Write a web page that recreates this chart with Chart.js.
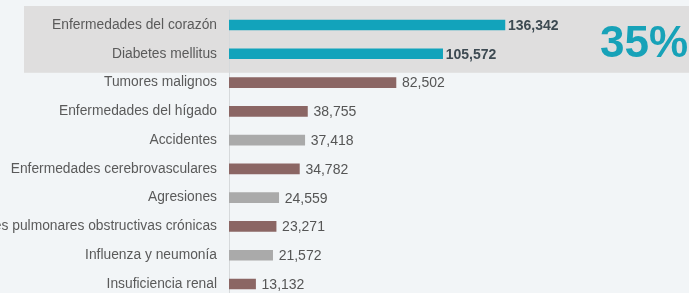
<!DOCTYPE html>
<html>
<head>
<meta charset="utf-8">
<script src="https://cdn.jsdelivr.net/npm/chart.js@4.4.1/dist/chart.umd.min.js"></script>
<style>
    html, body { margin: 0; padding: 0; background: #f2f5f7; overflow: hidden; }
    #wrap { position: relative; width: 689px; height: 299px; }
    #pct {
        position: absolute; left: 600px; top: 20px;
        font: bold 44px "Liberation Sans", Arial, sans-serif; line-height: 44px;
        color: #17a2b8; white-space: nowrap;
    }
</style>
</head>
<body>
<div id="wrap">
    <canvas id="causes-chart" width="689" height="299"></canvas>
    <div id="pct">35%</div>
</div>
<script>
const categories = [
    'Enfermedades del corazón', 'Diabetes mellitus', 'Tumores malignos', 'Enfermedades del hígado',
    'Accidentes', 'Enfermedades cerebrovasculares', 'Agresiones',
    'Enfermedades pulmonares obstructivas crónicas', 'Influenza y neumonía', 'Insuficiencia renal'
];
const deaths = [136342, 105572, 82502, 38755, 37418, 34782, 24559, 23271, 21572, 13132];
const barGroups = ['top', 'top', 'disease', 'disease', 'other', 'disease', 'other', 'disease', 'other', 'disease'];

const groupColors = { top: '#12a3bb', disease: '#8b6664', other: '#aaaaaa' };
const highlightRows = 2;

// grey band behind the two leading causes
const bandPlugin = {
    id: 'band',
    beforeDraw: (chart) => {
        const { ctx, scales: { y } } = chart;
        const top = y.getPixelForValue(0) - 19;
        const bottom = y.getPixelForValue(highlightRows - 1) + 19;
        ctx.save();
        ctx.fillStyle = '#dfdede';
        ctx.fillRect(24, top, chart.width - 24, bottom - top);
        ctx.restore();
    }
};

// value labels at the end of each bar
const valueLabels = {
    id: 'valueLabels',
    afterDatasetsDraw: (chart) => {
        const { ctx } = chart;
        const meta = chart.getDatasetMeta(0);
        ctx.save();
        ctx.textBaseline = 'middle';
        ctx.textAlign = 'left';
        meta.data.forEach((bar, i) => {
            const bold = i < highlightRows;
            ctx.font = (bold ? 'bold ' : '') + '14px "Liberation Sans", Arial, sans-serif';
            ctx.fillStyle = bold ? '#3d4a52' : '#555555';
            ctx.fillText(deaths[i].toLocaleString('en-US'), bar.x + (bold ? 3 : 6), bar.y + 1);
        });
        ctx.restore();
    }
};

new Chart(document.getElementById('causes-chart'), {
    type: 'bar',
    data: {
        labels: categories,
        datasets: [{
            data: deaths,
            backgroundColor: barGroups.map(g => groupColors[g]),
            barThickness: 10
        }]
    },
    options: {
        indexAxis: 'y',
        responsive: false,
        animation: false,
        layout: { padding: { top: 10.6, right: 0, bottom: 0.6, left: 0 } },
        plugins: { legend: { display: false }, tooltip: { enabled: false } },
        scales: {
            x: { display: false, min: 0, max: 227300 },
            y: {
                afterFit: s => { s.width = 229; s.paddingTop = 0; s.paddingBottom = 0; },
                grid: { display: false, drawTicks: false },
                border: { display: true, color: '#d6d9db', width: 1 },
                ticks: {
                    padding: 12,
                    color: '#5a5a5a',
                    font: { family: '"Liberation Sans", Arial, sans-serif', size: 13.8 }
                }
            }
        }
    },
    plugins: [bandPlugin, valueLabels]
});
</script>
</body>
</html>
